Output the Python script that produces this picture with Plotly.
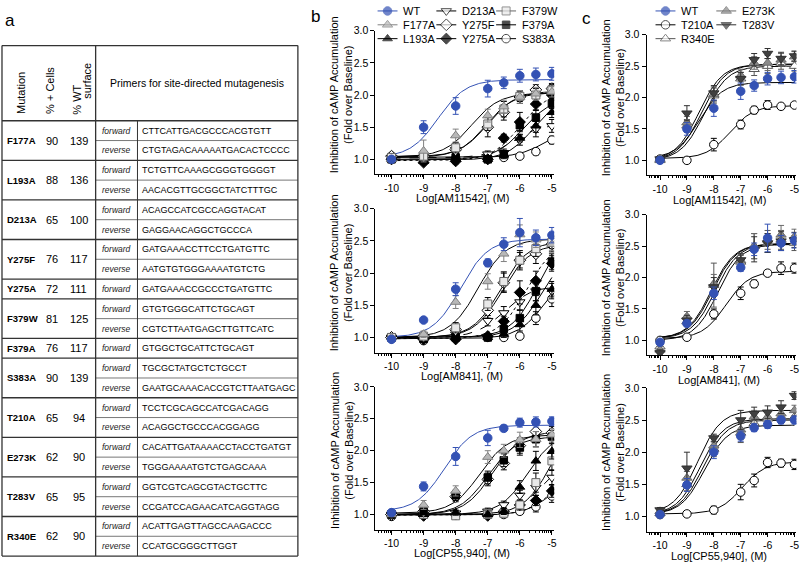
import numpy as np
import plotly.graph_objects as go

W, H = 800, 562

# ---------------- panel a : table ----------------
mutations = ["F177A", "L193A", "D213A", "Y275F", "Y275A", "F379W",
             "F379A", "S383A", "T210A", "E273K", "T283V", "R340E"]
pct_cells = [90, 88, 65, 76, 72, 81, 76, 90, 65, 62, 65, 62]
pct_wt_surface = [139, 136, 100, 117, 111, 125, 117, 139, 94, 90, 95, 90]
primer_fwd = ["CTTCATTGACGCCCACGTGTT", "TCTGTTCAAAGCGGGTGGGGT", "ACAGCCATCGCCAGGTACAT",
              "GATGAAACCTTCCTGATGTTC", "GATGAAACCGCCCTGATGTTC", "GTGTGGGCATTCTGCAGT",
              "GTGGCTGCATTCTGCAGT", "TGCGCTATGCTCTGCCT", "TCCTCGCAGCCATCGACAGG",
              "CACATTGATAAAACCTACCTGATGT", "GGTCGTCAGCGTACTGCTTC", "ACATTGAGTTAGCCAAGACCC"]
primer_rev = ["CTGTAGACAAAAATGACACTCCCC", "AACACGTTGCGGCTATCTTTGC", "GAGGAACAGGCTGCCCA",
              "AATGTGTGGGAAAATGTCTG", None, "CGTCTTAATGAGCTTGTTCATC",
              None, "GAATGCAAACACCGTCTTAATGAGC", "ACAGGCTGCCCACGGAGG",
              "TGGGAAAATGTCTGAGCAAA", "CCGATCCAGAACATCAGGTAGG", "CCATGCGGGCTTGGT"]

# ---------------- dose-response data ----------------
log_conc = [-10, -9, -8, -7, -6.5, -6, -5.5, -5]

# panel b, AM11542
mean_b1 = {
    "S383A": [1.05, 1.03, 1.02, 1.03, 1.03, 1.05, 1.12, 1.30],
    "D213A": [1.02, 1.03, 1.15, 1.08, 1.10, 1.30, 1.47, 1.52],
    "L193A": [1.00, 0.97, 1.00, 1.00, 1.07, 1.33, 1.52, 1.73],
    "F379A": [1.00, 1.00, 1.03, 1.00, 1.08, 1.53, 1.65, 1.87],
    "Y275A": [1.00, 0.95, 0.97, 1.00, 1.33, 1.58, 1.86, 2.00],
    "Y275F": [1.05, 1.05, 1.15, 1.50, 1.73, 1.97, 2.08, 2.10],
    "F379W": [1.03, 1.05, 1.18, 1.55, 1.78, 1.98, 2.00, 2.08],
    "F177A": [1.00, 1.13, 1.37, 1.68, 1.82, 1.97, 2.02, 2.05],
    "WT":    [1.00, 1.50, 1.83, 2.10, 2.19, 2.30, 2.32, 2.33],
}
sem_b1 = {
    "S383A": [0.03, 0.03, 0.03, 0.03, 0.03, 0.04, 0.05, 0.06],
    "D213A": [0.03, 0.04, 0.06, 0.05, 0.06, 0.08, 0.12, 0.10],
    "L193A": [0.03, 0.04, 0.04, 0.04, 0.06, 0.06, 0.10, 0.08],
    "F379A": [0.03, 0.03, 0.04, 0.04, 0.05, 0.08, 0.12, 0.08],
    "Y275A": [0.03, 0.03, 0.04, 0.04, 0.06, 0.15, 0.10, 0.08],
    "Y275F": [0.04, 0.06, 0.08, 0.15, 0.12, 0.10, 0.08, 0.08],
    "F379W": [0.04, 0.05, 0.08, 0.10, 0.12, 0.08, 0.10, 0.08],
    "F177A": [0.04, 0.17, 0.10, 0.10, 0.10, 0.10, 0.10, 0.08],
    "WT":    [0.04, 0.10, 0.13, 0.13, 0.09, 0.10, 0.10, 0.10],
}
# bottom, top, logEC50
fit_b1 = {"S383A": (1.03, 1.50, -5.2), "D213A": (1.02, 1.55, -6.2), "L193A": (0.99, 2.00, -5.55),
          "F379A": (1.00, 1.95, -5.9), "Y275A": (0.98, 2.05, -6.0), "Y275F": (1.04, 2.06, -7.0),
          "F379W": (1.03, 2.04, -7.05), "F177A": (1.04, 2.03, -7.5), "WT": (1.03, 2.24, -8.55)}

# panel b, AM841
mean_b2 = {
    "S383A": [0.98, 0.95, 1.00, 1.00, 1.00, 1.02, 1.30, 1.60],
    "D213A": [1.00, 1.00, 1.05, 1.26, 1.38, 1.55, 1.72, 1.72],
    "L193A": [1.00, 1.00, 1.00, 1.00, 1.05, 1.20, 1.50, 1.75],
    "F379A": [1.00, 0.98, 1.00, 1.00, 1.13, 1.30, 1.72, 2.18],
    "Y275A": [1.00, 0.97, 0.97, 1.02, 1.25, 1.70, 1.88, 2.15],
    "Y275F": [1.00, 1.02, 1.12, 1.42, 1.85, 2.20, 2.30, 2.45],
    "F379W": [1.00, 1.02, 1.15, 1.52, 1.87, 2.20, 2.38, 2.48],
    "F177A": [1.00, 1.05, 1.55, 1.87, 2.30, 2.60, 2.52, 2.45],
    "WT":    [0.97, 1.27, 1.75, 2.16, 2.45, 2.63, 2.55, 2.59],
}
sem_b2 = {
    "S383A": [0.03, 0.03, 0.03, 0.03, 0.03, 0.05, 0.10, 0.12],
    "D213A": [0.03, 0.03, 0.05, 0.08, 0.10, 0.12, 0.15, 0.12],
    "L193A": [0.03, 0.03, 0.03, 0.03, 0.05, 0.10, 0.15, 0.12],
    "F379A": [0.03, 0.03, 0.03, 0.03, 0.06, 0.12, 0.15, 0.12],
    "Y275A": [0.03, 0.03, 0.03, 0.04, 0.08, 0.18, 0.15, 0.12],
    "Y275F": [0.03, 0.04, 0.06, 0.12, 0.15, 0.15, 0.15, 0.12],
    "F379W": [0.03, 0.04, 0.08, 0.10, 0.15, 0.12, 0.12, 0.10],
    "F177A": [0.03, 0.05, 0.10, 0.12, 0.12, 0.15, 0.12, 0.10],
    "WT":    [0.04, 0.03, 0.10, 0.06, 0.10, 0.22, 0.12, 0.12],
}
fit_b2 = {"S383A": (0.98, 2.10, -5.2), "D213A": (1.00, 1.80, -6.5), "L193A": (1.00, 2.40, -5.3),
          "F379A": (1.00, 2.70, -5.4), "Y275A": (0.98, 2.50, -5.8), "Y275F": (1.00, 2.45, -6.55),
          "F379W": (1.00, 2.50, -6.6), "F177A": (1.00, 2.53, -7.3), "WT": (1.00, 2.53, -7.85)}

# panel b, CP55,940
mean_b3 = {
    "S383A": [0.97, 1.00, 1.00, 1.00, 1.00, 1.05, 1.12, 1.29],
    "Y275A": [1.00, 0.98, 1.00, 0.98, 1.05, 1.15, 1.22, 1.37],
    "D213A": [1.00, 1.00, 1.02, 1.05, 1.15, 1.30, 1.42, 1.58],
    "F379W": [1.00, 1.00, 0.98, 1.00, 1.02, 1.15, 1.50, 1.84],
    "L193A": [1.00, 1.00, 1.03, 1.00, 1.05, 1.43, 1.84, 1.99],
    "Y275F": [1.00, 1.05, 1.28, 1.55, 1.80, 2.08, 2.30, 2.28],
    "F379A": [1.00, 1.05, 1.30, 1.58, 1.85, 2.05, 2.18, 2.22],
    "F177A": [1.00, 1.15, 1.37, 1.90, 2.00, 2.17, 2.18, 2.25],
    "WT":    [1.03, 1.44, 1.91, 2.20, 2.35, 2.44, 2.45, 2.46],
}
sem_b3 = {
    "S383A": [0.03, 0.03, 0.03, 0.03, 0.03, 0.05, 0.08, 0.10],
    "Y275A": [0.03, 0.03, 0.03, 0.03, 0.05, 0.06, 0.08, 0.10],
    "D213A": [0.03, 0.03, 0.04, 0.05, 0.06, 0.08, 0.12, 0.12],
    "F379W": [0.03, 0.03, 0.03, 0.03, 0.04, 0.08, 0.15, 0.15],
    "L193A": [0.03, 0.03, 0.04, 0.04, 0.05, 0.10, 0.15, 0.12],
    "Y275F": [0.03, 0.05, 0.08, 0.10, 0.10, 0.12, 0.12, 0.10],
    "F379A": [0.03, 0.05, 0.08, 0.10, 0.10, 0.12, 0.12, 0.10],
    "F177A": [0.03, 0.07, 0.08, 0.10, 0.10, 0.12, 0.12, 0.10],
    "WT":    [0.05, 0.07, 0.14, 0.12, 0.05, 0.07, 0.08, 0.07],
}
fit_b3 = {"S383A": (0.99, 1.70, -4.95), "Y275A": (0.99, 1.80, -4.9), "D213A": (1.00, 1.90, -5.3),
          "F379W": (1.00, 2.60, -5.0), "L193A": (1.00, 2.30, -5.75), "Y275F": (1.00, 2.30, -6.85),
          "F379A": (1.00, 2.22, -7.0), "F177A": (1.02, 2.25, -7.25), "WT": (1.05, 2.40, -8.35)}

# panel c, AM11542
mean_c1 = {
    "T210A": [1.02, 1.00, 1.25, 1.57, 1.80, 1.88, 1.86, 1.88],
    "R340E": [1.02, 1.55, 2.03, 2.30, 2.45, 2.50, 2.55, 2.50],
    "E273K": [1.00, 1.60, 2.05, 2.35, 2.55, 2.55, 2.60, 2.65],
    "T283V": [1.02, 1.75, 2.07, 2.30, 2.60, 2.70, 2.62, 2.66],
    "WT":    mean_b1["WT"],
}
sem_c1 = {
    "T210A": [0.03, 0.03, 0.10, 0.07, 0.06, 0.07, 0.04, 0.04],
    "R340E": [0.03, 0.10, 0.12, 0.10, 0.10, 0.12, 0.10, 0.08],
    "E273K": [0.03, 0.10, 0.12, 0.10, 0.10, 0.12, 0.10, 0.08],
    "T283V": [0.03, 0.12, 0.12, 0.10, 0.10, 0.08, 0.10, 0.08],
    "WT":    sem_b1["WT"],
}
fit_c1 = {"T210A": (1.03, 1.87, -7.4), "R340E": (1.00, 2.50, -8.35), "E273K": (1.00, 2.53, -8.45),
          "T283V": (1.00, 2.53, -8.55), "WT": fit_b1["WT"]}

# panel c, AM841
mean_c2 = {
    "T210A": [1.00, 1.05, 1.42, 1.75, 1.90, 2.07, 2.15, 2.15],
    "R340E": [0.90, 1.30, 1.88, 2.25, 2.50, 2.60, 2.60, 2.55],
    "E273K": [0.85, 1.38, 1.90, 2.27, 2.50, 2.55, 2.68, 2.65],
    "T283V": [0.80, 1.32, 1.85, 2.28, 2.45, 2.55, 2.58, 2.60],
    "WT":    mean_b2["WT"],
}
sem_c2 = {
    "T210A": [0.03, 0.03, 0.08, 0.10, 0.06, 0.04, 0.10, 0.08],
    "R340E": [0.05, 0.08, 0.35, 0.10, 0.20, 0.15, 0.15, 0.12],
    "E273K": [0.05, 0.08, 0.15, 0.10, 0.20, 0.15, 0.15, 0.12],
    "T283V": [0.05, 0.08, 0.15, 0.10, 0.20, 0.15, 0.15, 0.12],
    "WT":    sem_b2["WT"],
}
fit_c2 = {"T210A": (1.03, 2.10, -7.55), "R340E": (1.03, 2.54, -8.1), "E273K": (1.03, 2.54, -8.05),
          "T283V": (1.03, 2.54, -7.95), "WT": fit_b2["WT"]}

# panel c, CP55,940
mean_c3 = {
    "T210A": [1.03, 1.04, 1.10, 1.38, 1.56, 1.84, 1.83, 1.81],
    "R340E": [1.05, 1.50, 2.05, 2.30, 2.45, 2.52, 2.55, 2.55],
    "E273K": [1.08, 1.60, 2.10, 2.35, 2.55, 2.55, 2.60, 2.65],
    "T283V": [1.10, 1.75, 2.22, 2.50, 2.60, 2.62, 2.70, 2.88],
    "WT":    [1.03, 1.49, 2.00, 2.25, 2.38, 2.43, 2.50, 2.50],
}
sem_c3 = {
    "T210A": [0.03, 0.03, 0.06, 0.12, 0.10, 0.08, 0.06, 0.08],
    "R340E": [0.04, 0.10, 0.12, 0.15, 0.10, 0.10, 0.10, 0.08],
    "E273K": [0.04, 0.10, 0.12, 0.15, 0.10, 0.10, 0.10, 0.08],
    "T283V": [0.04, 0.25, 0.06, 0.15, 0.10, 0.10, 0.10, 0.06],
    "WT":    [0.04, 0.10, 0.10, 0.08, 0.06, 0.06, 0.06, 0.06],
}
fit_c3 = {"T210A": (1.04, 1.85, -6.95), "R340E": (1.03, 2.50, -8.4), "E273K": (1.03, 2.52, -8.5),
          "T283V": (1.05, 2.65, -8.6), "WT": (1.03, 2.42, -8.35)}

x_titles = ["Log[AM11542], (M)", "Log[AM841], (M)", "Log[CP55,940], (M)"]
x_tick_vals = [-10, -9, -8, -7, -6, -5]
x_tick_text = ["-10", "-9", "-8", "-7", "-6", "-5"]
y_tick_vals = [1.0, 1.5, 2.0, 2.5, 3.0]

legend_b = [["WT", "D213A", "F379W"], ["F177A", "Y275F", "F379A"], ["L193A", "Y275A", "S383A"]]
legend_c = [["WT", "E273K"], ["T210A", "T283V"], ["R340E"]]

# ---------------- styles ----------------
BLUE = "#3452b4"
FONT = "Liberation Sans, Arial, sans-serif"
STYLE = {
    "WT":    dict(symbol="circle", fill=BLUE, edge=BLUE, size=8.5, err=BLUE),
    "F177A": dict(symbol="triangle-up", fill="#b8b8b8", edge="#808080", size=9, err="#808080"),
    "L193A": dict(symbol="triangle-up", fill="black", edge="black", size=8.5, err="black"),
    "D213A": dict(symbol="triangle-down", fill="white", edge="black", size=9, err="black"),
    "Y275F": dict(symbol="diamond", fill="white", edge="black", size=9, err="black"),
    "Y275A": dict(symbol="diamond", fill="black", edge="black", size=8.5, err="black"),
    "F379W": dict(symbol="square", fill="#e8e8e8", edge="#666666", size=8, err="black"),
    "F379A": dict(symbol="square", fill="black", edge="black", size=7.5, err="black"),
    "S383A": dict(symbol="circle", fill="white", edge="black", size=8.5, err="black"),
    "T210A": dict(symbol="circle", fill="white", edge="black", size=8.5, err="black"),
    "E273K": dict(symbol="triangle-up", fill="#8a8a8a", edge="#6a6a6a", size=9, err="#6a6a6a"),
    "T283V": dict(symbol="triangle-down", fill="#404040", edge="#303030", size=9, err="#303030"),
    "R340E": dict(symbol="triangle-up", fill="white", edge="#555555", size=9, err="#555555"),
}
DASH = {"D213A": "dash", "Y275A": "dot"}

X_LO, X_HI, Y_LO, Y_HI = -10.5, -4.93, 0.765, 3.0


def px(x):
    return x / W


def py(y):
    return 1 - y / H


def hill(x, bottom, top, logec50):
    return bottom + (top - bottom) / (1 + 10 ** (logec50 - x))


def xdom(x10, dec):
    return [px(x10 + (X_LO + 10) * dec), min(1.0, px(x10 + (X_HI + 10) * dec))]


def ydom(y1, y3):
    bottom = y1 + (1 - Y_LO) * (y1 - y3) / 2
    return [py(bottom), py(y3)]


fig = go.Figure()
annotations = []
shapes = []


def ann(x, y, text, size=11, xanchor="center", yanchor="middle", angle=0, color="black"):
    annotations.append(dict(x=px(x), y=py(y), xref="paper", yref="paper", text=text,
                            showarrow=False, xanchor=xanchor, yanchor=yanchor, textangle=angle,
                            font=dict(family=FONT, size=size, color=color)))


def hline(x0, x1, y, w=1.0, c="#333333"):
    shapes.append(dict(type="line", xref="paper", yref="paper", x0=px(x0), x1=px(x1),
                       y0=py(y), y1=py(y), line=dict(color=c, width=w)))


def vline(x, y0, y1, w=1.0, c="#333333"):
    shapes.append(dict(type="line", xref="paper", yref="paper", x0=px(x), x1=px(x),
                       y0=py(y0), y1=py(y1), line=dict(color=c, width=w)))


# ---------------- table ----------------
T_TOP, T_HEAD, ROW_H = 40, 116, 20
T_L, T_R, C1, C2 = 2, 299, 96, 138

ann(10, 15, "a", size=17)
ann(21, 88, "Mutation", size=11, angle=-90)
ann(50, 85, "% + Cells", size=11, angle=-90)
ann(77, 95, "% WT", size=11, angle=-90)
ann(88, 76, "surface", size=11, angle=-90)
ann((C1 + T_R) / 2, 78, "Primers for site-directed mutagenesis", size=10.5)

y = T_HEAD
for i, m in enumerate(mutations):
    rows = [("forward", primer_fwd[i])]
    if primer_rev[i]:
        rows.append(("reverse", primer_rev[i]))
    yc = y + len(rows) * ROW_H / 2
    ann(5, yc, "<b>%s</b>" % m, size=9.5, xanchor="left")
    ann(52, yc, str(pct_cells[i]), size=11)
    ann(79, yc, str(pct_wt_surface[i]), size=11)
    for j, (lab, seq) in enumerate(rows):
        ry = y + (j + 0.5) * ROW_H
        ann((C1 + C2) / 2, ry, "<i>%s</i>" % lab, size=8.5, color="#222222")
        ann(C2 + 3, ry, seq, size=9, xanchor="left")
        if j > 0:
            hline(C1, T_R, y + j * ROW_H, w=1, c="#777777")
    y += len(rows) * ROW_H
    hline(T_L, T_R, y, w=1.3)
T_BOT = y
hline(T_L, T_R, T_TOP, w=1.3)
hline(T_L, T_R, T_HEAD, w=1.3)
vline(T_L, T_TOP, T_BOT, w=1.3)
vline(T_R, T_TOP, T_BOT, w=1.3)
vline(C1, T_TOP, T_BOT, w=1.3)
vline(C2, T_HEAD, T_BOT, w=1)

# ---------------- dose-response panels ----------------
minor_vals = [d + np.log10(k) for d in range(-11, -4) for k in range(2, 10)]
minor_vals = [v for v in minor_vals if X_LO < v < X_HI]
curve_x = np.linspace(-10, -5, 150)

B_X10, B_DEC = 393, 32.2
C_X10, C_DEC = 662.5, 27.0
panels = [
    # axis idx, x -10 px, decade px, y(1.0) px, y(3.0) px, means, sems, fits, blue WT curve, title index
    (1, B_X10, B_DEC, 155, 25, mean_b1, sem_b1, fit_b1, True, 0),
    (2, B_X10, B_DEC, 335, 205, mean_b2, sem_b2, fit_b2, True, 1),
    (3, B_X10, B_DEC, 514, 385, mean_b3, sem_b3, fit_b3, True, 2),
    (4, C_X10, C_DEC, 156, 29, mean_c1, sem_c1, fit_c1, False, 0),
    (5, C_X10, C_DEC, 338, 211, mean_c2, sem_c2, fit_c2, False, 1),
    (6, C_X10, C_DEC, 516, 386, mean_c3, sem_c3, fit_c3, False, 2),
]

for idx, x10, dec, y1, y3, means, sems, fits, blue_wt, ti in panels:
    xa = "x" if idx == 1 else "x%d" % idx
    ya = "y" if idx == 1 else "y%d" % idx
    suffix = "" if idx == 1 else str(idx)
    axis_common = dict(showline=True, linecolor="black", linewidth=1, ticks="outside",
                       tickcolor="black", tickwidth=1, showgrid=False, zeroline=False,
                       tickfont=dict(family=FONT, size=10.5, color="black"))
    fig.layout["xaxis" + suffix] = dict(
        axis_common, domain=xdom(x10, dec), range=[X_LO, X_HI], anchor=ya,
        tickmode="array", tickvals=x_tick_vals, ticktext=x_tick_text, ticklen=4,
        minor=dict(tickmode="array", tickvals=minor_vals, ticks="outside", ticklen=2,
                   tickcolor="black", tickwidth=1, showgrid=False))
    fig.layout["yaxis" + suffix] = dict(
        axis_common, domain=ydom(y1, y3), range=[Y_LO, Y_HI], anchor=xa,
        tickmode="array", tickvals=y_tick_vals, tickformat=".1f", ticklen=4)

    # fitted curves first, markers on top
    for name, (bot, top, ec) in fits.items():
        col = BLUE if (name == "WT" and blue_wt) else "black"
        fig.add_trace(go.Scatter(
            x=curve_x, y=hill(curve_x, bot, top, ec), mode="lines", xaxis=xa, yaxis=ya,
            line=dict(color=col, width=1, dash=DASH.get(name, "solid") if blue_wt else "solid"),
            hoverinfo="skip", showlegend=False))
    for name, vals in means.items():
        st = STYLE[name]
        fig.add_trace(go.Scatter(
            x=log_conc, y=vals, mode="markers", name=name, xaxis=xa, yaxis=ya,
            marker=dict(symbol=st["symbol"], size=st["size"], color=st["fill"],
                        line=dict(color=st["edge"], width=1)),
            error_y=dict(type="data", array=sems[name], color=st["err"], thickness=1, width=3),
            showlegend=False))

    # axis titles
    yc = (y1 + y3) / 2
    x_axis_px = y1 + (1 - Y_LO) * (y1 - y3) / 2
    if idx <= 3:
        ann(342.5, yc, "Inhibition of cAMP Accumulation<br>(Fold over Baseline)", size=11, angle=-90)
        ann(464, x_axis_px + 24, x_titles[ti], size=11)
    else:
        ann(615, yc, "Inhibition of cAMP Accumulation<br>(Fold over Baseline)", size=11, angle=-90)
        ann(722, x_axis_px + 25, x_titles[ti], size=11)

ann(317, 11, "b", size=17)
ann(589, 13, "c", size=17)

# ---------------- legends (overlay axis in pixel units) ----------------
fig.layout["xaxis7"] = dict(domain=[0, 1], range=[0, W], visible=False, fixedrange=True, anchor="y7")
fig.layout["yaxis7"] = dict(domain=[0, 1], range=[H, 0], visible=False, fixedrange=True, anchor="x7")


def draw_legend(rows, col_x, row_y):
    for r, row in enumerate(rows):
        for c, name in enumerate(row):
            st = STYLE[name]
            cx, cy = col_x[c], row_y[r]
            lc = BLUE if name == "WT" else st["edge"]
            fig.add_trace(go.Scatter(
                x=[cx - 10, cx, cx + 10], y=[cy, cy, cy], mode="lines+markers",
                xaxis="x7", yaxis="y7", line=dict(color=lc, width=1),
                marker=dict(symbol=st["symbol"], size=[0, st["size"], 0], color=st["fill"],
                            line=dict(color=st["edge"], width=[0, 1, 0])),
                hoverinfo="skip", showlegend=False))
            ann(cx + 14, cy, name, size=11, xanchor="left")


draw_legend(legend_b, [389, 448, 508], [5, 19, 33])
draw_legend(legend_c, [668, 729], [5, 19, 33])

fig.update_layout(
    width=W, height=H, margin=dict(l=0, r=0, t=0, b=0),
    paper_bgcolor="white", plot_bgcolor="rgba(0,0,0,0)", showlegend=False,
    font=dict(family=FONT, size=11, color="black"),
    annotations=annotations, shapes=shapes,
)

# pin the graph to the page's top-left corner (no default body margin)
fig.write_html("out.html", config={"displayModeBar": False}, post_script=(
    "document.body.style.margin='0';"
    "var d=document.getElementById('{plot_id}');"
    "d.style.position='absolute';d.style.left='0px';d.style.top='0px';"))
